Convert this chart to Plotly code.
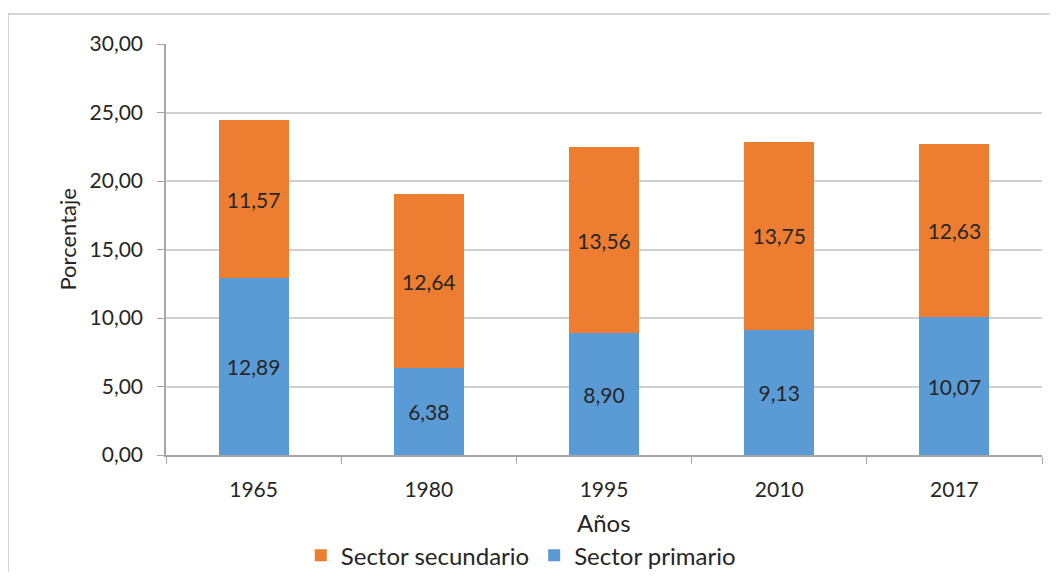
import plotly.graph_objects as go

years = ["1965", "1980", "1995", "2010", "2017"]
primario = [12.89, 6.38, 8.90, 9.13, 10.07]
secundario = [11.57, 12.64, 13.56, 13.75, 12.63]
y_ticks = [0, 5, 10, 15, 20, 25, 30]

FONT = "Lato"
TXT = "#262626"

fig = go.Figure()
fig.add_trace(go.Bar(x=years, y=primario, name="Sector primario",
                     marker=dict(color="#5B9BD5", line=dict(width=0)),
                     texttemplate="%{y:.2f}", textposition="inside",
                     insidetextanchor="middle",
                     textfont=dict(family=FONT, size=21, color=TXT)))
fig.add_trace(go.Bar(x=years, y=secundario, name="Sector secundario",
                     marker=dict(color="#ED7D31", line=dict(width=0)),
                     texttemplate="%{y:.2f}", textposition="inside",
                     insidetextanchor="middle",
                     textfont=dict(family=FONT, size=21, color=TXT)))

fig.update_layout(
    barmode="stack", bargap=0.6,
    width=1042, height=564,
    margin=dict(l=158, r=8, t=36, b=117, autoexpand=False),
    paper_bgcolor="white", plot_bgcolor="white",
    separators=",.",
    font=dict(family=FONT, size=20, color=TXT),
    showlegend=True,
    legend=dict(orientation="h", x=0.405, xanchor="center", y=-0.245, yanchor="middle",
                traceorder="reversed", font=dict(family=FONT, size=24, color=TXT),
                itemwidth=30, bgcolor="rgba(0,0,0,0)"),
    xaxis=dict(showline=True, linecolor="#A6A6A6", linewidth=1.5,
               ticks="outside", tickson="boundaries", ticklen=7, tickcolor="#A6A6A6",
               ticklabelstandoff=15, automargin=False,
               tickfont=dict(family=FONT, size=21, color=TXT)),
    yaxis=dict(range=[0, 30], tickvals=y_ticks, tickformat=".2f",
               showgrid=True, gridcolor="#D0D0D0", gridwidth=1.5,
               showline=True, linecolor="#A6A6A6", linewidth=1.5,
               ticks="outside", ticklen=7, tickcolor="#A6A6A6",
               ticklabelstandoff=10, automargin=False,
               tickfont=dict(family=FONT, size=21, color=TXT), zeroline=False),
    annotations=[
        dict(text="Años", x=0.5, y=-0.165, xref="paper", yref="paper",
             showarrow=False, font=dict(family=FONT, size=24, color=TXT),
             xanchor="center", yanchor="middle"),
        dict(text="Porcentaje", x=-0.112, y=0.524, xref="paper", yref="paper",
             textangle=-90, showarrow=False, font=dict(family=FONT, size=22, color=TXT),
             xanchor="center", yanchor="middle"),
    ],
    shapes=[dict(type="rect", xref="paper", yref="paper",
                 x0=-0.1804, x1=1.2, y0=-0.6, y1=1.073,
                 line=dict(color="#C8C8C8", width=1.5), layer="below")],
)

fig.write_html("out.html")
